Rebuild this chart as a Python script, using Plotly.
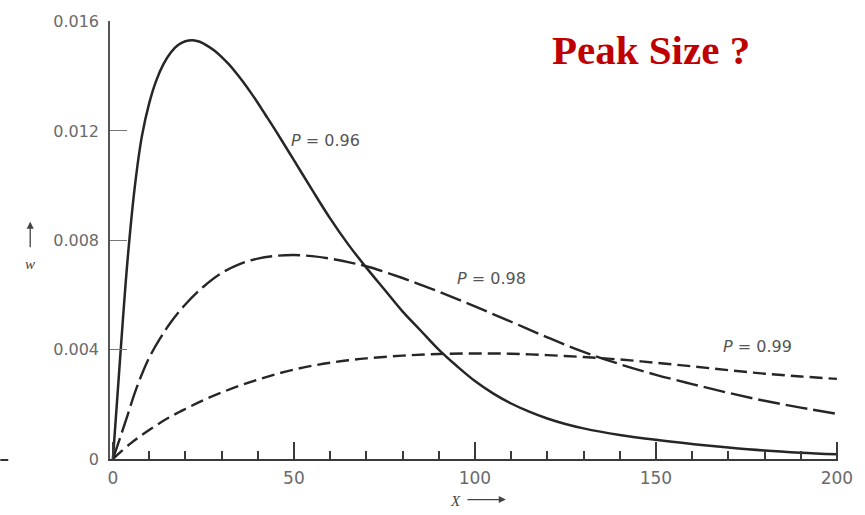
import plotly.graph_objects as go

# Values (w vs x)
x_p96 = [0, 2, 4, 6, 8, 10, 12, 14, 16, 18, 20, 22, 24, 26, 28, 30, 32, 34, 36, 38, 40, 42, 45,
         50, 55, 60, 65, 70, 75, 80, 85, 90, 95, 100, 105, 110, 115, 120, 125, 130, 140, 150,
         160, 170, 180, 190, 200]
w_p96 = [0, 0.0037, 0.0072, 0.0099, 0.0118, 0.0130, 0.01385, 0.01445, 0.01487, 0.01514,
         0.01528, 0.01532, 0.01526, 0.01512, 0.01494, 0.01471, 0.01444, 0.01413, 0.01379,
         0.01342, 0.01303, 0.01262, 0.0120, 0.01093, 0.00985, 0.0088, 0.00785, 0.0070, 0.0062,
         0.0054, 0.0047, 0.0040, 0.0034, 0.00285, 0.0024, 0.00203, 0.00173, 0.00148, 0.00128,
         0.00112, 0.00088, 0.0007, 0.00055, 0.00042, 0.00031, 0.00023, 0.00017]

x_p98 = [0, 2, 4, 6, 8, 10, 13, 16, 20, 25, 30, 35, 40, 45, 50, 55, 60, 65, 70, 80, 90, 100,
         110, 120, 130, 140, 150, 160, 170, 180, 190, 200]
w_p98 = [0, 0.00078, 0.00158, 0.0024, 0.0031, 0.0037, 0.0044, 0.0050, 0.00565, 0.0063, 0.0068,
         0.00713, 0.00733, 0.00743, 0.00746, 0.00742, 0.00733, 0.0072, 0.00705, 0.00662,
         0.00612, 0.00558, 0.00502, 0.00445, 0.00392, 0.00347, 0.00308, 0.00274, 0.00242,
         0.00213, 0.00188, 0.00165]

x_p99 = [0, 5, 10, 15, 20, 25, 30, 35, 40, 45, 50, 55, 60, 65, 70, 80, 90, 100, 110, 120, 130,
         140, 150, 160, 170, 180, 190, 200]
w_p99 = [0, 0.00058, 0.00106, 0.00148, 0.00183, 0.00215, 0.00243, 0.00268, 0.0029, 0.0031,
         0.00327, 0.00341, 0.00352, 0.00361, 0.00368, 0.00378, 0.00384, 0.00386, 0.00385, 0.0038,
         0.00373, 0.00364, 0.00352, 0.00339, 0.00325, 0.00312, 0.00302, 0.00293]

y_tickvals = [0, 0.004, 0.008, 0.012, 0.016]
y_ticktext = ["0", "0.004", "0.008", "0.012", "0.016"]
x_tickvals = [0, 50, 100, 150, 200]
x_ticktext = ["0", "50", "100", "150", "200"]

curve_labels = ["<i>P</i> = 0.96", "<i>P</i> = 0.98", "<i>P</i> = 0.99"]
label_x = [58.8, 104.5, 178]
label_y = [0.01165, 0.0066, 0.0041]

ink = "#262626"
fig = go.Figure()
fig.add_trace(go.Scatter(x=x_p96, y=w_p96, mode="lines",
                         line=dict(color=ink, width=2.5, shape="spline", smoothing=1.0)))
fig.add_trace(go.Scatter(x=x_p98, y=w_p98, mode="lines",
                         line=dict(color=ink, width=2.4, shape="spline", smoothing=1.0,
                                   dash="22px,6px")))
fig.add_trace(go.Scatter(x=x_p99, y=w_p99, mode="lines",
                         line=dict(color=ink, width=2.4, shape="spline", smoothing=1.0,
                                   dash="13px,6px")))

ytickfont = dict(family="DejaVu Sans, sans-serif", size=16, color="#6a6a6a")
xtickfont = dict(family="DejaVu Sans, sans-serif", size=17, color="#6a6a6a")

fig.update_layout(
    width=865, height=515,
    margin=dict(l=110, r=25, t=16, b=56),
    paper_bgcolor="white", plot_bgcolor="white",
    showlegend=False,
    xaxis=dict(range=[-0.8, 200.3], showgrid=False, zeroline=False,
               showline=True, linecolor="#3a3a3a", linewidth=2,
               tickmode="array", tickvals=x_tickvals, ticktext=x_ticktext,
               ticks="inside", ticklen=17, tickwidth=1.5, tickcolor="#3a3a3a",
               minor=dict(dtick=10, tick0=0, ticks="inside", ticklen=8, tickwidth=1.5,
                          tickcolor="#3a3a3a", showgrid=False),
               tickfont=xtickfont, ticklabelstandoff=3),
    yaxis=dict(range=[0, 0.01602], showgrid=False, zeroline=False,
               showline=True, linecolor="#555555", linewidth=1.5,
               tickmode="array", tickvals=y_tickvals, ticktext=y_ticktext,
               ticks="inside", ticklen=17, tickwidth=1.3, tickcolor="#777777",
               tickfont=ytickfont, ticklabelstandoff=6),
)

for t, lx, ly in zip(curve_labels, label_x, label_y):
    fig.add_annotation(x=lx, y=ly, text=t, showarrow=False, xanchor="center", yanchor="middle",
                       font=dict(family="DejaVu Sans, sans-serif", size=16, color="#555555"))

def px2paper(px, py):
    return (px - 110) / 730, (459 - py) / 443

# Red note
tx, ty = px2paper(652, 45)
fig.add_annotation(xref="paper", yref="paper", x=tx, y=ty, text="<b>Peak Size ?</b>",
                   showarrow=False, xanchor="center", yanchor="middle",
                   font=dict(family="Liberation Serif, Times New Roman, serif", size=41,
                             color="#c00000"))

# Y axis label: arrow + w
ax_, ay_ = px2paper(30, 219)
fig.add_annotation(xref="paper", yref="paper", x=ax_, y=ay_, ax=0, ay=27, text="",
                   showarrow=True, arrowhead=2, arrowsize=1.1, arrowwidth=1.3,
                   arrowcolor="#444444")
wx, wy = px2paper(30, 262)
fig.add_annotation(xref="paper", yref="paper", x=wx, y=wy, text="<i>w</i>", showarrow=False,
                   xanchor="center", yanchor="middle",
                   font=dict(family="Liberation Serif, serif", size=15, color="#444444"))

# X axis label: X + arrow
xx, xy = px2paper(456, 501)
fig.add_annotation(xref="paper", yref="paper", x=xx, y=xy, text="<i>X</i>", showarrow=False,
                   xanchor="center", yanchor="middle",
                   font=dict(family="Liberation Serif, serif", size=15, color="#444444"))
hx, hy = px2paper(507, 500)
fig.add_annotation(xref="paper", yref="paper", x=hx, y=hy, ax=-40, ay=0, text="",
                   showarrow=True, arrowhead=2, arrowsize=1.1, arrowwidth=1.3,
                   arrowcolor="#444444")

# stray mark at far left
s0x, s0y = px2paper(0, 460)
s1x, _ = px2paper(8, 460)
fig.add_shape(type="line", xref="paper", yref="paper", x0=s0x, y0=s0y, x1=s1x, y1=s0y,
              line=dict(color="#333333", width=2))

fig.write_html("out.html")
